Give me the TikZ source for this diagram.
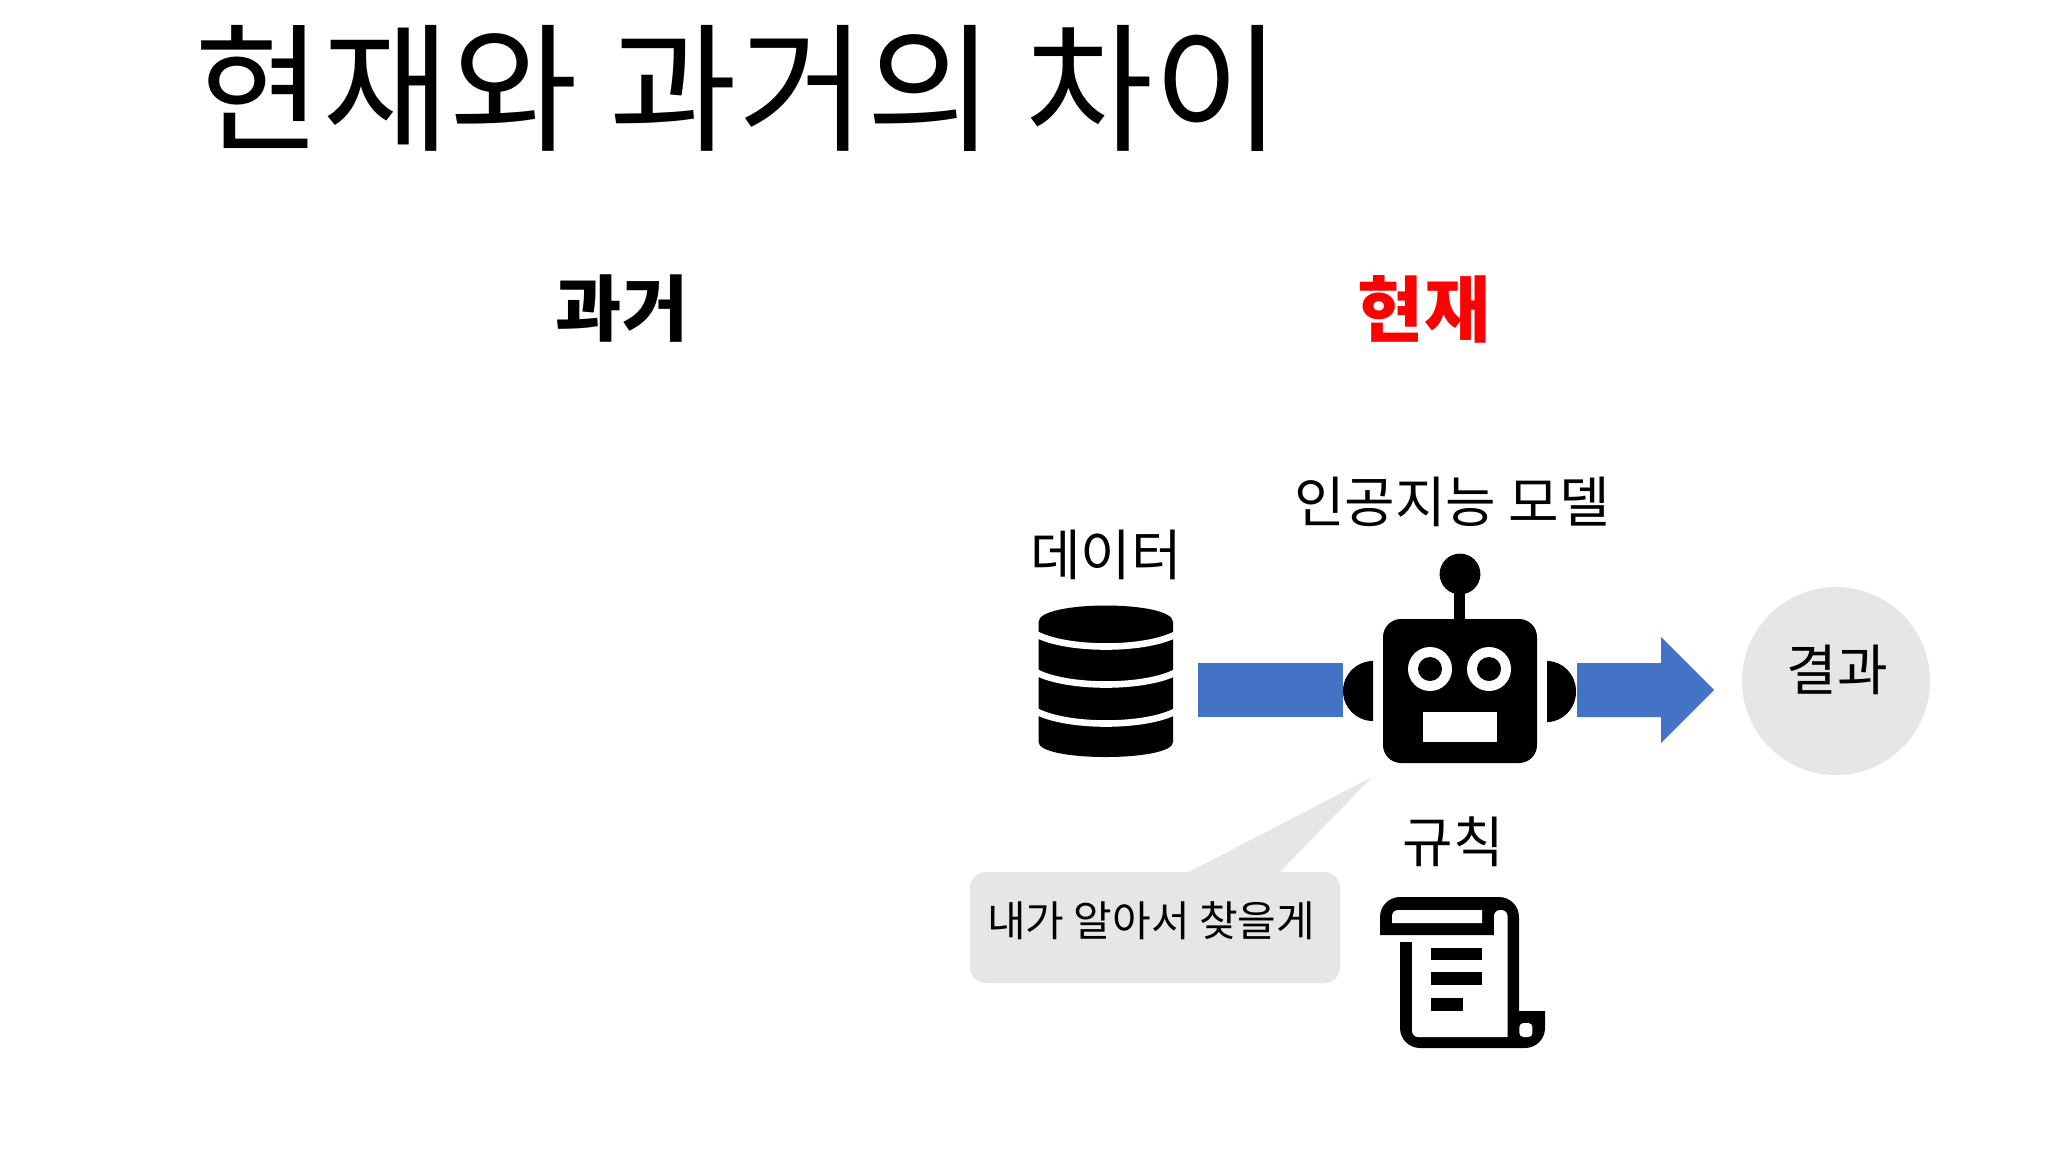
\documentclass[tikz,border=0pt]{standalone}
\usepackage{fontspec}
\setmainfont{Noto Sans CJK KR}
\definecolor{blockblue}{HTML}{4472C4}
\definecolor{softgray}{HTML}{E6E6E6}
\definecolor{circgray}{HTML}{E6E6E8}
\tikzset{
  txt/.style={inner sep=0pt,outer sep=0pt,text=black,anchor=center},
  title/.style={txt,font=\fontsize{69.6}{74}\selectfont},
  head/.style={txt,font=\bfseries\fontsize{36}{40}\selectfont},
  lab/.style={txt,font=\fontsize{27.5}{31}\selectfont},
  small/.style={txt,font=\fontsize{21}{24}\selectfont},
  blockfill/.style={fill=blockblue},
  ink/.style={fill=black},
  paper/.style={fill=white},
}
\begin{document}
\begin{tikzpicture}[x=0.5pt,y=-0.5pt]
\useasboundingbox[fill=white] (0,0) rectangle (2048,1152);
% titles
\node[title] (ttl) at (738,88) {현재와 과거의 차이};
\node[head] (past) at (622,309) {과거};
\node[head,text=red] (now) at (1424,309) {현재};
% database
\fill[ink] (1038.5,622) .. controls (1038.5,600) and (1173,600) .. (1173,622) -- (1173,742) .. controls (1173,762) and (1038.5,762) .. (1038.5,742) -- cycle;
\foreach \e in {635,673,712}{
  \draw[white,line width=3.3pt] (1034,\e-2) .. controls (1064,\e+16) and (1148,\e+16) .. (1178,\e-2);
}
\node[lab] (data) at (1106,555) {데이터};
% block from data to robot
\fill[blockfill] (1198,663) rectangle (1343,717);
% robot
\fill[ink,rounded corners=9pt] (1383,619) rectangle (1537,763);
\fill[ink] (1454,590) rectangle (1465,620);
\fill[ink] (1460,574) circle[radius=10.2pt];
\fill[ink] (1373,661) arc[start angle=90,end angle=270,x radius=15pt,y radius=15pt] -- cycle;
\fill[ink] (1547,661) arc[start angle=90,end angle=-90,x radius=14.5pt,y radius=15.25pt] -- cycle;
\foreach \ex in {1430,1489}{
  \fill[paper] (\ex,669) circle[radius=11pt];
  \fill[ink] (\ex,669) circle[radius=6pt];
}
\fill[paper] (1422.5,712) rectangle (1497,742);
\node[lab] (model) at (1452,501.5) {인공지능 모델};
% output arrow
\fill[blockfill] (1577,663) -- (1661,663) -- (1661,637) -- (1714,690) -- (1661,743) -- (1661,717) -- (1577,717) -- cycle;
% result
\node[circle,fill=circgray,minimum size=94pt,inner sep=0pt] (res) at (1836,681) {};
\node[lab] (restxt) at (1837,670) {결과};
% callout
\fill[softgray,rounded corners=8pt] (970,872) rectangle (1340,983);
\fill[softgray] (1187,873) -- (1372,777) -- (1279,873) -- cycle;
\node[small] (say) at (1151,921) {내가 알아서 찾을게};
% rules
\node[lab] (rule) at (1453,842) {규칙};
\fill[ink,rounded corners=10pt] (1380,935) [sharp corners] -- (1380,935) [rounded corners=10pt] -- (1380,897) -- (1519,897) [sharp corners] -- (1519,1011) -- (1490,1011) -- (1494,935) -- cycle;
\fill[ink,rounded corners=10pt] (1400,942) -- (1400,1048) -- (1545,1048) [sharp corners] -- (1545,1011) -- (1507,1011) -- (1507,942) -- cycle;
\fill[paper,rounded corners=3pt] (1392,923) [sharp corners] -- (1392,923) [rounded corners=3pt] -- (1392,910) [sharp corners] -- (1482,910) -- (1482,923) -- cycle;
\fill[paper,rounded corners=3pt] (1494,936) -- (1494,910) -- (1507.5,910) [sharp corners] -- (1507.5,1037) [rounded corners=3pt] -- (1412,1037) [sharp corners] -- (1412,936) -- cycle;
\fill[paper,rounded corners=2pt] (1519.4,1023) -- (1532.4,1023) -- (1532.4,1037) -- (1519.4,1037) -- cycle;
\fill[ink] (1431,948) rectangle (1482,960);
\fill[ink] (1431,972) rectangle (1482,985);
\fill[ink] (1431,998) rectangle (1463,1011);
\end{tikzpicture}
\end{document}
